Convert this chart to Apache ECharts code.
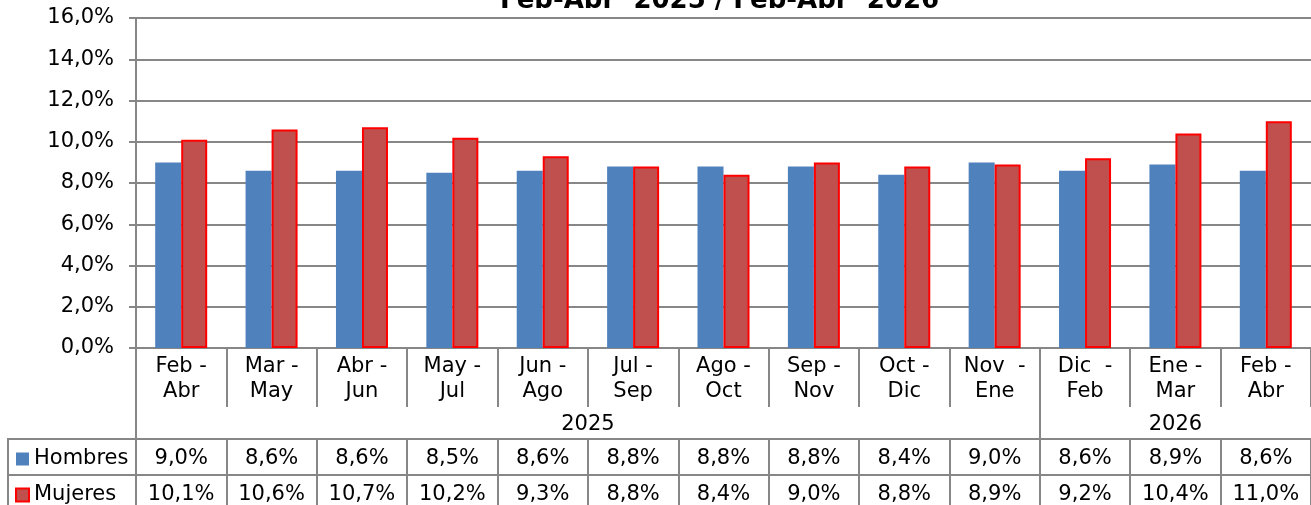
<!DOCTYPE html>
<html>
<head>
<meta charset="utf-8">
<script src="https://cdn.jsdelivr.net/npm/echarts@6/dist/echarts.min.js"></script>
<style>
  html, body { margin: 0; padding: 0; background: #fff; }
  #chart { width: 1311px; height: 505px; }
</style>
</head>
<body>
<div id="chart"></div>
<script>
// datos
const categories = ['Feb -\nAbr', 'Mar -\nMay', 'Abr -\nJun', 'May -\nJul', 'Jun -\nAgo', 'Jul -\nSep',
  'Ago -\nOct', 'Sep -\nNov', 'Oct -\nDic', 'Nov  -\nEne', 'Dic  -\nFeb', 'Ene -\nMar', 'Feb -\nAbr']
const years = ['2025', '2026']
const yearSpans = [10, 3]
const hombres = [9.0, 8.6, 8.6, 8.5, 8.6, 8.8, 8.8, 8.8, 8.4, 9.0, 8.6, 8.9, 8.6]
const mujeres = [10.1, 10.6, 10.7, 10.2, 9.3, 8.8, 8.4, 9.0, 8.8, 8.9, 9.2, 10.4, 11.0]
const titleText = 'Feb-Abr  2025 / Feb-Abr  2026'

const FONT = 'DejaVu Sans'
const FS = 21
const GRAY = '#878787'
const pct = v => Number(v).toFixed(1).replace('.', ',') + '%'

// posiciones de los años (centro de cada tramo y separadores)
const yearCenters = []
const yearBounds = [0]
let acc = 0
yearSpans.forEach(n => {
  yearCenters.push(acc + n / 2)
  acc += n
  yearBounds.push(acc)
})
yearBounds.pop()

const chart = echarts.init(document.getElementById('chart'))

const rowAxis = (values, offset, tickLen) => ({
  type: 'category',
  data: values.map(pct),
  position: 'bottom',
  offset: offset,
  axisLine: { show: true, lineStyle: { color: GRAY, width: 2 } },
  axisTick: { show: true, length: tickLen, lineStyle: { color: GRAY, width: 2 } },
  axisLabel: { interval: 0, margin: 9, fontFamily: FONT, fontSize: FS, color: '#000' }
})

const option = {
  animation: false,
  title: {
    text: titleText,
    left: 495,
    top: -17,
    textStyle: { fontFamily: FONT, fontSize: 26, fontWeight: 'bold', color: '#000' }
  },
  legend: {
    orient: 'vertical',
    left: 15,
    top: 447,
    height: 120,
    padding: 0,
    itemWidth: 13,
    itemHeight: 13,
    itemGap: 12,
    itemTextGap: 5,
    icon: 'rect',
    textStyle: { fontFamily: FONT, fontSize: FS, lineHeight: 24, color: '#000' },
    data: ['Hombres', 'Mujeres']
  },
  grid: { left: 136, right: -3, top: 18, bottom: 157 },
  xAxis: [
    {
      type: 'category',
      data: categories,
      position: 'bottom',
      axisLine: { show: true, lineStyle: { color: GRAY, width: 2 } },
      axisTick: { show: true, length: 59, lineStyle: { color: GRAY, width: 2 } },
      axisLabel: { interval: 0, margin: 6, fontFamily: FONT, fontSize: FS, lineHeight: 25, color: '#000' }
    },
    {
      type: 'value',
      min: 0,
      max: categories.length,
      position: 'bottom',
      offset: 59,
      axisLine: { show: false },
      splitLine: { show: false },
      axisTick: { show: true, length: 32, customValues: yearBounds, lineStyle: { color: GRAY, width: 2 } },
      axisLabel: {
        customValues: yearCenters,
        margin: 7,
        fontFamily: FONT, fontSize: FS, color: '#000',
        formatter: v => years[yearCenters.indexOf(v)]
      }
    },
    rowAxis(hombres, 91, 36),
    rowAxis(mujeres, 127, 40)
  ],
  yAxis: {
    type: 'value',
    min: 0,
    max: 16,
    interval: 2,
    axisLine: { show: true, lineStyle: { color: GRAY, width: 2 } },
    axisTick: { show: true, length: 7, lineStyle: { color: GRAY, width: 2 } },
    splitLine: { show: true, lineStyle: { color: GRAY, width: 2 } },
    axisLabel: { margin: 22, fontFamily: FONT, fontSize: FS, color: '#000', formatter: pct }
  },
  graphic: [
    // celdas de cabecera de la tabla
    { type: 'rect', shape: { x: 8, y: 439, width: 128, height: 36 }, style: { fill: 'none', stroke: GRAY, lineWidth: 2 } },
    { type: 'rect', shape: { x: 8, y: 475, width: 128, height: 40 }, style: { fill: 'none', stroke: GRAY, lineWidth: 2 } }
  ],
  series: [
    {
      name: 'Hombres',
      type: 'bar',
      xAxisIndex: 0,
      data: hombres,
      barWidth: 26,
      barGap: '0%',
      itemStyle: { color: '#4F81BD' }
    },
    {
      name: 'Mujeres',
      type: 'bar',
      xAxisIndex: 0,
      data: mujeres,
      barWidth: 26,
      barGap: '0%',
      itemStyle: { color: '#C0504D', borderColor: '#FF0000', borderWidth: 2 }
    }
  ]
}

chart.setOption(option)
</script>
</body>
</html>
